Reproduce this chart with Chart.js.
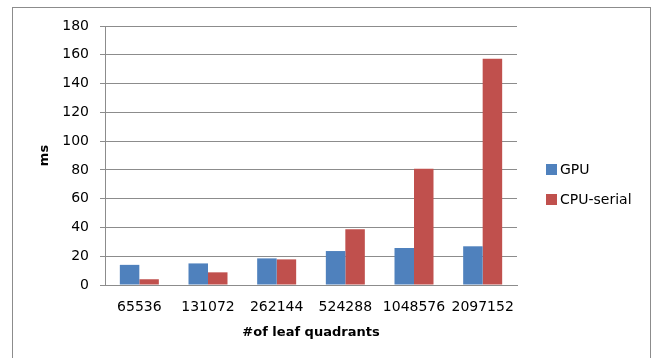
<!DOCTYPE html>
<html>
<head>
<meta charset="utf-8">
<script src="https://cdn.jsdelivr.net/npm/chart.js@4/dist/chart.umd.min.js"></script>
<style>
  html, body { margin: 0; padding: 0; background: #fff; }
  #wrap { position: relative; width: 659px; height: 358px; overflow: hidden; }
  #frame { position: absolute; left: 12px; top: 7px; width: 639px; height: 400px;
           border: 1.5px solid #8c8c8c; box-sizing: border-box; }
  canvas { position: absolute; left: 0; top: 0; }
  #legend { position: absolute; left: 546px; top: 154px; font-family: "DejaVu Sans", sans-serif;
            font-size: 14px; color: #000; }
  .item { display: flex; align-items: center; height: 30px; }
  .sw { width: 11px; height: 11px; margin-right: 3px; }
</style>
</head>
<body>
<div id="wrap">
  <div id="frame"></div>
  <canvas id="c" width="659" height="358"></canvas>
  <div id="legend"></div>
</div>
<script>
const categories = ["65536", "131072", "262144", "524288", "1048576", "2097152"];
const gpuMs = [14, 15, 18.5, 23.6, 25.7, 26.9];
const cpuSerialMs = [4, 8.8, 17.8, 38.7, 80.8, 157.3];
const seriesNames = ["GPU", "CPU-serial"];
const seriesColors = ["#4f81bd", "#c0504d"];
const yTicks = [0, 20, 40, 60, 80, 100, 120, 140, 160, 180];

const font = "'DejaVu Sans', sans-serif";
const gridGray = "#8c8c8c";

const chart = new Chart(document.getElementById("c"), {
  type: "bar",
  data: {
    labels: categories,
    datasets: [
      { label: seriesNames[0], data: gpuMs, backgroundColor: seriesColors[0] },
      { label: seriesNames[1], data: cpuSerialMs, backgroundColor: seriesColors[1] }
    ]
  },
  options: {
    responsive: false,
    animation: false,
    layout: { padding: { top: 26, right: 142, bottom: 18, left: 37 } },
    datasets: { bar: { categoryPercentage: 0.568, barPercentage: 1.0 } },
    plugins: { legend: { display: false }, tooltip: { enabled: false } },
    scales: {
      x: {
        grid: { display: false, drawTicks: false },
        border: { display: true, color: gridGray, width: 1 },
        ticks: { color: "#000", font: { family: font, size: 14 }, padding: 14, maxRotation: 0, autoSkip: false },
        title: { display: true, text: "#of leaf quadrants", color: "#000",
                 font: { family: font, size: 13, weight: "bold" }, padding: { top: 6, bottom: 0 } },
        afterFit: s => { s.height = 55; }
      },
      y: {
        min: 0, max: 180,
        afterBuildTicks: s => { s.ticks = yTicks.map(v => ({ value: v })); },
        grid: { color: gridGray, lineWidth: 1, tickLength: 5, drawTicks: true },
        border: { display: true, color: gridGray, width: 1 },
        ticks: { color: "#000", font: { family: font, size: 14 }, padding: 11 },
        title: { display: true, text: "ms", color: "#000",
                 font: { family: font, size: 13, weight: "bold" }, padding: 0 },
        afterFit: s => { s.width = 68; }
      }
    }
  }
});

// legend drawn as HTML beside the plot
const legend = document.getElementById("legend");
seriesNames.forEach((name, i) => {
  const item = document.createElement("div");
  item.className = "item";
  const sw = document.createElement("span");
  sw.className = "sw";
  sw.style.background = seriesColors[i];
  const t = document.createElement("span");
  t.textContent = name;
  item.appendChild(sw);
  item.appendChild(t);
  legend.appendChild(item);
});
</script>
</body>
</html>
